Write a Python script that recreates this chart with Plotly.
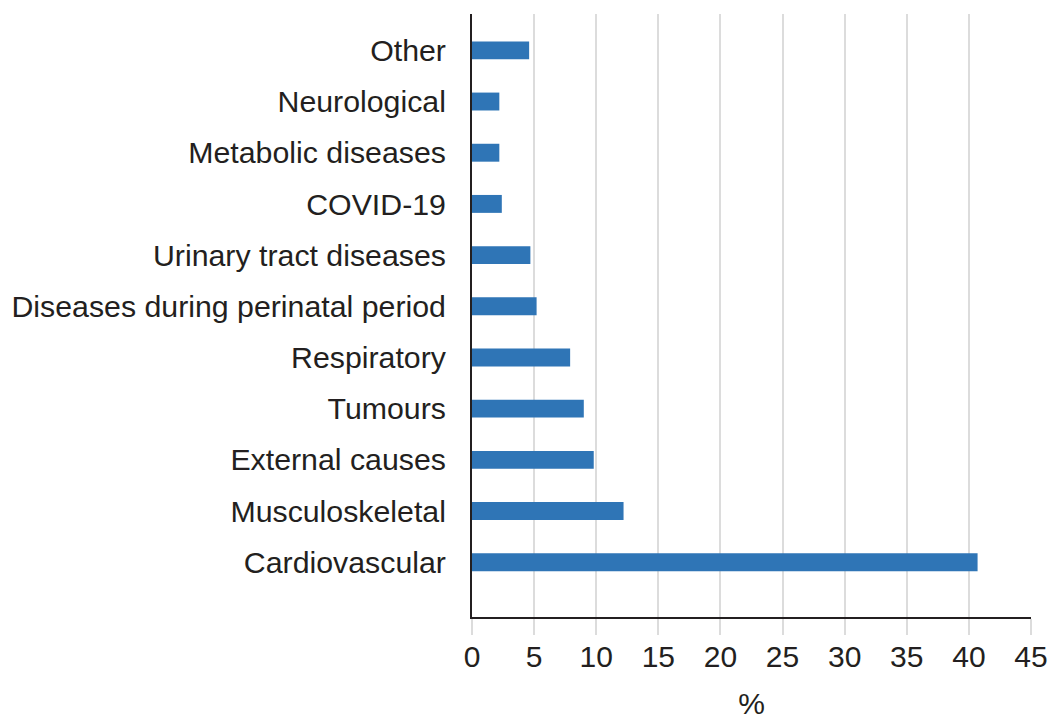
import plotly.graph_objects as go

categories = [
    "Cardiovascular",
    "Musculoskeletal",
    "External causes",
    "Tumours",
    "Respiratory",
    "Diseases during perinatal period",
    "Urinary tract diseases",
    "COVID-19",
    "Metabolic diseases",
    "Neurological",
    "Other",
]
values = [40.7, 12.2, 9.8, 9.0, 7.9, 5.2, 4.7, 2.4, 2.2, 2.2, 4.6]

x_ticks = [0, 5, 10, 15, 20, 25, 30, 35, 40, 45]

fig = go.Figure()

fig.add_trace(go.Bar(
    x=values,
    y=categories,
    orientation='h',
    width=0.35,
    marker=dict(color='#2f75b6', line=dict(width=0)),
))

fig.update_xaxes(
    range=[0, 45],
    tickvals=x_ticks,
    automargin=False,
    showgrid=True,
    gridcolor='#dcdcdc',
    gridwidth=2,
    ticks='outside',
    ticklen=16,
    tickwidth=2,
    tickcolor='#dcdcdc',
    ticklabelstandoff=-4,
    showline=True,
    linecolor='#231f20',
    linewidth=2,
    zeroline=False,
    tickfont=dict(size=30, color='#231f20'),
    title=dict(text='%', font=dict(size=30, color='#231f20'), standoff=24),
)

fig.update_yaxes(
    type='category',
    range=[-1.07, 10.71],
    automargin=False,
    showgrid=False,
    showline=True,
    linecolor='#231f20',
    linewidth=2,
    ticks='',
    ticklabelstandoff=18,
    tickfont=dict(size=30.3, color='#231f20'),
)

fig.update_layout(
    width=1051,
    height=720,
    template='plotly_white',
    plot_bgcolor='white',
    paper_bgcolor='white',
    font=dict(family='Liberation Sans, Arial, sans-serif', color='#231f20'),
    showlegend=False,
    margin=dict(l=472, r=20, t=14, b=103),
)

# drop the default page margin so the figure fills the window exactly
fig.write_html(
    "out.html",
    config={'displayModeBar': False},
    post_script="document.body.style.margin='0'; document.body.style.overflow='hidden';",
)
